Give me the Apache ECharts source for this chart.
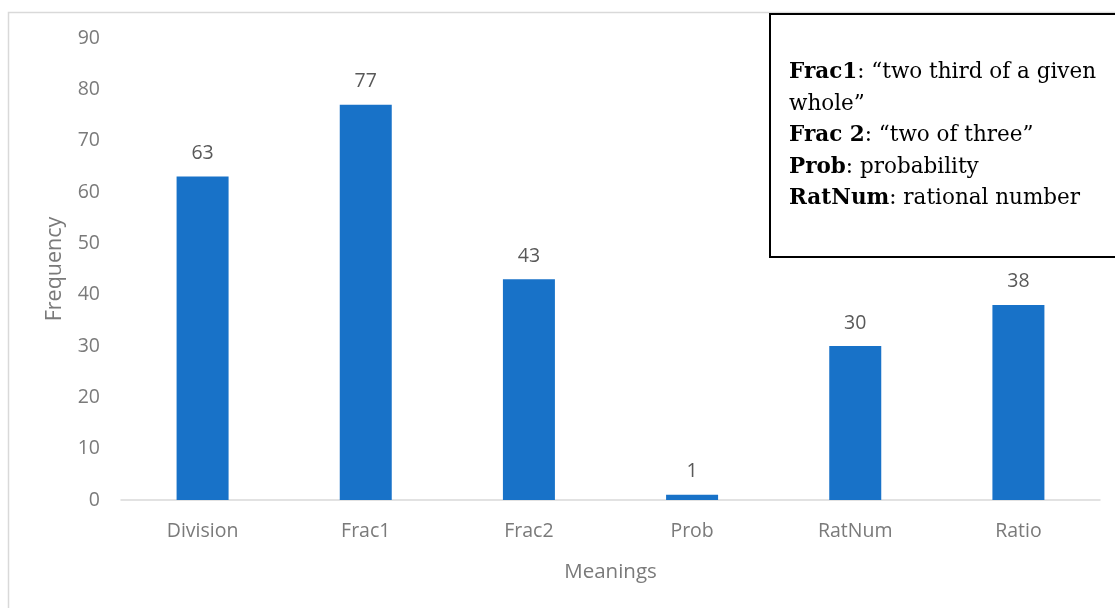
<!DOCTYPE html>
<html>
<head>
<meta charset="utf-8">
<script src="https://cdn.jsdelivr.net/npm/echarts@6/dist/echarts.min.js"></script>
<style>html,body{margin:0;padding:0;background:#fff}#c{width:1115px;height:608px}</style>
</head>
<body>
<div id="c"></div>
<script>
const categories = ['Division', 'Frac1', 'Frac2', 'Prob', 'RatNum', 'Ratio'];
const frequency = [63, 77, 43, 1, 30, 38];
const yTicks = { min: 0, max: 90, interval: 10 };

const chart = echarts.init(document.getElementById('c'));
const grey = '#7a7a7a';
chart.setOption({
  animation: false,
  grid: { left: 121, right: 15, top: 38, bottom: 108 },
  xAxis: {
    type: 'category',
    data: categories,
    name: 'Meanings',
    nameLocation: 'middle',
    nameGap: 62,
    nameTextStyle: { color: grey, fontSize: 20.5, fontFamily: 'Open Sans' },
    axisLine: { lineStyle: { color: '#d9d9d9', width: 1.5 } },
    axisTick: { show: false },
    axisLabel: { color: grey, fontSize: 19.5, margin: 21, fontFamily: 'Open Sans' }
  },
  yAxis: {
    type: 'value',
    min: yTicks.min, max: yTicks.max, interval: yTicks.interval,
    name: 'Frequency',
    nameLocation: 'middle',
    nameGap: 55,
    nameTextStyle: { color: grey, fontSize: 21.5, fontFamily: 'Open Sans' },
    axisLine: { show: false },
    axisTick: { show: false },
    splitLine: { show: false },
    axisLabel: { color: grey, fontSize: 19.5, margin: 21, fontFamily: 'Open Sans' }
  },
  series: [{
    type: 'bar',
    data: frequency,
    barWidth: 52,
    itemStyle: { color: '#1872C8' },
    label: { show: true, position: 'top', distance: 13, color: '#595959', fontSize: 19.5, fontFamily: 'Open Sans' }
  }],
  graphic: [
    { type: 'rect', left: 6, top: 10, shape: { width: 1120, height: 620 }, style: { fill: 'none', stroke: '#d9d9d9', lineWidth: 1.5 }, z: -1 },
    { type: 'rect', left: 769, top: 13, shape: { width: 360, height: 243 }, style: { fill: '#fff', stroke: '#000', lineWidth: 2 }, z: 10 },
    {
      type: 'text', left: 789, top: 57, z: 11,
      style: {
        text: '{b|Frac1}: “two third of a given\nwhole”\n{b|Frac 2}: “two of three”\n{b|Prob}: probability\n{b|RatNum}: rational number',
        font: '21.5px "DejaVu Serif"',
        fill: '#000',
        lineHeight: 31.5,
        rich: { b: { fontWeight: 'bold', fontFamily: 'DejaVu Serif', fontSize: 21.5, lineHeight: 31.5 } }
      }
    }
  ]
});
</script>
</body>
</html>
